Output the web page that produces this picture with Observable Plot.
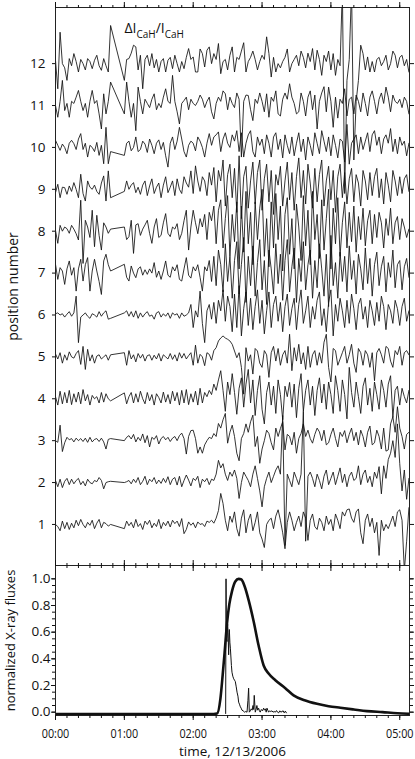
<!DOCTYPE html>
<html><head><meta charset="utf-8">
<script src="https://cdn.jsdelivr.net/npm/d3@7"></script>
<script src="https://cdn.jsdelivr.net/npm/@observablehq/plot@0.6"></script>
<style>
body{margin:0;background:#fff;}
#wrap{position:relative;width:415px;height:759px;overflow:hidden;font-family:"Open Sans",sans-serif;}
#wrap svg{position:absolute;left:0;}
</style></head><body><div id="wrap"></div>
<script>
// ---- sampling grid (minutes after 00:00 UT, 2-minute cadence) ----
const sampleStep = 2;
const sampleTimes = d3.range(155).map(i => i * sampleStep);

// ---- ΔI/I deviations of each position, in hundredths of a position unit ----
const s1 = [0,-5,-15,8,-10,5,-12,3,-8,10, -3,12,0,-8,5,-2,10,-10,3,12, -8,5,2,-4,0, null,null,null,null,null,
-10,8,-3,5,-8,12,-5,2,-12,8, 0,10,-8,3,-5,12,-10,5,-3,8, -6,10,2,8,-5,14,-22,-12,6,-2, 4,-8,6,0,2,-5,8,5,10,3,
15,33,74,50,10,-15,20,5,30,-10, -28,15,35,-20,10,25,-15,5,30,-20, -35,-55,0,10,15,-10,20,35,10,-20,
-58,5,30,10,-15,5,20,-5,30,15, -38,10,25,-5,-12,15,5,-15,20,0, 12,-15,25,10,-10,30,20,35,37,15,
5,30,37,-20,-46,10,25,-5,15,-20, 5,-74,10,-15,0,-10,5,20,-5,30, 35,10,-110,-40,40];
const s2 = [5,-10,8,-12,3,10,-5,8,-3,5, 10,-5,3,-8,8,0,-3,5,2,12, 5,-15,0,2,3, null,null,null,null,null,
0,2,5,-3,8,0,12,-5,3,15, -5,8,2,12,-3,6,-2,10,0,14, -5,8,12,-6,15,-10,5,18,6,-8, 10,5,15,-12,8,2,10,-5,8,5,
20,53,35,45,20,5,25,15,30,10, -38,0,25,15,5,-10,20,40,10,-20, -58,-10,10,25,0,15,30,40,20,160,
-150,20,5,-10,25,10,-5,20,170,-140, 15,25,10,-10,20,5,-15,15,30,-5, 10,25,-5,15,35,0,20,-10,15,25,
5,10,40,-5,20,30,0,15,-10,25, 10,38,-27,40,10,55,70,100,60,140, 45,-20,30,-40,10];
const s3 = [0,-4,37,-26,-5,8,2,5,-3,6, 0,5,-2,6,-4,8,-3,3,5,-2, 6,-3,-20,3,5, null,null,null,null,null,
0,8,12,4,15,-3,8,0,16,-5, 12,-15,8,3,12,-8,5,10,2,8, -2,6,10,0,12,18,5,-32,10,24, 25,5,-30,-15,-30,-10,0,8,5,17,
10,41,30,50,65,-6,20,37,10,-30, -48,5,17,40,20,45,61,-14,10,-54, -20,0,25,17,-5,-22,30,10,29,45,
-22,15,10,-10,20,-30,5,17,40,10, 25,5,-6,15,30,21,0,25,-10,-5, 15,30,5,-15,20,10,24,-5,15,30,
0,20,-10,25,10,-15,20,35,-10,-5, 25,10,-20,30,-25,-22,40,57,20,81, 30,10,-20,15,20];
const s4 = [5,-15,18,-12,15,-10,20,-14,12,-8, 16,-12,22,-5,10,-15,8,0,5,-10, 15,-8,12,0,-5, null,null,null,null,null,
14,-12,5,15,-10,12,-8,18,0,-12, 15,-5,10,-15,12,3,-10,16,-8,10, -12,18,-5,15,-15,20,-10,22,-14,12, -8,18,-15,25,-10,15,5,20,10,35,
20,45,67,20,-30,40,10,60,15,-37, 25,50,-20,35,70,-10,45,-40,20,55, -25,-60,15,40,-15,30,-35,45,10,-50,
30,5,39,-20,35,-45,25,60,-30,20, 45,-15,30,-40,20,50,-10,35,-25,40, 10,-35,55,20,-30,45,10,-48,75,15,
-20,40,5,-35,30,50,-15,25,-30,40, 10,-25,45,20,-20,35,55,-44,20,30, -15,25,5,-10,20];
const s5 = [7,-5,10,-15,5,-8,12,0,-3,8, 15,-18,25,-30,18,-10,5,-15,2,5, -5,0,5,-8,5, null,null,null,null,null,
10,-20,15,-5,5,-12,8,-3,6,-10, 3,5,-8,4,-5,8,-10,5,0,-5, 8,-6,5,-10,10,-3,8,-5,3,10, -20,28,-15,6,0,-21,10,6,-8,15,
22,38,45,50,45,42,38,30,14,-2, 10,-25,-89,22,-10,5,-41,20,14,-15, -25,15,5,-49,10,25,-10,20,-20,5,
15,-15,54,-33,22,-10,30,-17,10,-30, 25,-25,5,15,-20,10,-15,35,54,-25, -60,20,15,-20,-5,10,25,-15,5,30,
-15,-37,20,10,-20,15,5,-25,10,-57, 10,20,5,-15,25,20,-10,-25,15,5, 25,-20,10,15,5];
const s6 = [3,5,0,3,-5,2,8,-3,5,45, -66,-5,0,5,-3,-8,3,0,-5,8, -3,5,10,-10,-8, null,null,null,null,null,
5,10,-3,8,-5,10,-8,5,-5,3, 8,-3,0,-10,5,8,-5,3,-3,5, -8,5,0,3,-8,5,-3,0,5,25, -30,10,-5,57,-20,-66,10,25,-10,30,
-20,35,10,60,-15,45,20,-40,50,-30, 70,-50,15,55,-25,40,-35,20,60,-20, 35,-45,10,55,-30,25,45,-15,30,-40,
20,50,-25,15,40,-35,25,60,-20,10, 45,-30,20,-10,35,55,-25,15,-40,30, 60,-50,25,-15,40,10,-30,35,-20,50,
15,-35,25,40,-10,20,-30,35,10,-25, 30,-15,45,20,-35,25,10,-20,35,15, -25,20,40,-15,10];
const s7 = [21,-15,13,5,-27,10,29,-5,13,-43, 10,33,-19,20,37,-43,5,33,5,-20, -51,29,45,20,5, null,null,null,null,null,
21,-10,-19,17,0,-11,10,15,-5,8, -3,10,0,25,-10,5,-15,5,29,-5, -10,15,5,20,-15,-19,10,37,-5,-12, 15,5,20,-10,-43,15,5,30,-20,40,
-30,55,20,-45,70,-20,40,-60,30,75, -50,20,85,-70,40,-30,65,-55,25,80, -40,30,-75,55,10,-50,70,-25,45,-65,
30,80,-45,15,60,-70,35,-20,75,-40, 20,55,-60,30,-35,70,10,-55,45,-80, 90,-30,25,-60,50,-20,40,-45,65,-15,
30,-50,45,10,-40,60,-25,35,-55,20, 50,-30,15,40,-45,25,-10,55,-35,20, 30,-40,15,35,-10];
const s8 = [2,-29,14,0,10,6,-5,14,5,-6, -21,74,-77,26,10,-15,50,-37,38,-10, -45,20,10,-5,5, null,null,null,null,null,
10,-20,-13,26,-53,15,18,-10,5,15, 26,-5,-29,10,30,-15,-10,20,42,-5, -13,10,5,18,-20,-5,25,50,-45,10, 50,20,-6,30,10,40,-20,45,25,60,
-30,50,75,-40,30,85,-60,40,-25,70, -90,60,-50,95,-30,45,-80,70,-20,55, 100,-60,30,-85,70,-40,90,-20,60,-95,
40,80,-55,30,-90,65,10,-70,85,-35, 50,-80,95,-20,40,-65,75,-45,30,100, -90,55,-30,80,-60,20,70,-40,45,-25,
60,-50,35,-20,55,-35,25,50,-30,40, -15,45,20,-40,30,-10,55,-30,20,35, -20,30,10,-15,5];
const s9 = [-8,12,-20,5,4,-12,8,-5,16,0, -20,36,-10,-28,20,5,0,10,-5,-12, 15,32,-28,44,-20, null,null,null,null,null,
-5,20,0,10,16,-8,5,-12,10,20, -15,8,25,-10,5,15,-20,10,30,-8, 5,20,-15,25,0,-10,30,15,5,44, -10,56,20,-5,30,20,-15,40,10,52,
-30,45,20,70,-40,35,60,-20,50,-55, 80,-70,30,55,-45,20,65,-35,40,70, -50,25,60,-30,45,-60,35,10,55,-40,
20,65,-25,40,-50,30,75,-20,45,-35, 60,15,-45,50,-30,35,70,-40,20,55, -25,45,-55,30,60,-20,40,-35,25,50,
-30,35,15,-40,45,20,-25,40,-15,30, 50,-20,25,-35,40,10,-30,45,20,-15, 30,-10,25,35,-5];
const s10 = [17,5,-7,8,0,-15,10,17,9,-5, 20,33,-5,10,-23,5,0,-10,12,-19, 5,-39,48,-39,-10, null,null,null,null,null,
-19,10,15,-8,0,25,-10,-5,15,8, -12,20,5,-15,10,18,-5,12,-20,-47, 10,25,-5,15,48,20,-10,-23,5,15, 10,-8,25,15,0,-23,10,33,5,25,
30,37,-10,20,35,10,0,30,15,40, -10,35,-23,10,30,40,-10,-23,25,5, 20,-15,30,10,-23,25,35,-5,20,-25,
30,5,-15,25,-20,10,35,-10,20,-30, 25,5,-20,35,10,-15,40,15,-10,25, -20,30,5,-25,20,15,-35,55,-40,10,
20,30,-15,25,-5,15,35,-10,30,40, 5,25,-15,20,30,10,45,-10,20,-15, 25,5,15,-20,10];
const s11 = [0,-28,10,60,-12,5,-28,10,5,20, 36,10,-12,5,-28,10,36,5,12,-20, -56,28,-20,10,56, null,null,null,null,null,
-20,56,10,-28,5,-60,44,10,-20,15, 5,-5,15,28,-10,5,-5,20,40,10, 5,72,10,-15,-44,5,12,20,-10,15, 5,0,10,25,15,-5,10,20,-15,-32,
5,20,10,35,28,-10,20,5,-5,30, 15,-123,10,25,24,-10,-36,15,5,30, 10,-15,28,-28,20,10,35,-20,-25,15,
30,15,52,20,5,-20,-15,30,10,-25, 20,35,-10,25,-56,10,30,45,-15,44, 10,-52,20,-30,15,5,40,-25,15,20,
-20,25,10,-15,30,5,-25,20,35,10, -20,15,30,5,44,20,-15,25,10,5, 15,-5,20,10,-20];
const s12 = [8,-60,75,0,-10,-40,12,-5,24,5, -20,10,0,-15,12,5,-12,8,20,-5, -16,12,-5,-20,91, null,null,null,null,null,
-40,10,12,25,44,40,-15,20,-60,10, 20,-5,24,-10,10,-20,5,12,-20,8, 15,-12,20,0,-20,5,-12,15,36,10, 16,-20,-20,35,24,-8,32,40,0,24,
10,48,-24,5,10,-15,20,40,-20,15, 10,30,50,-20,5,15,30,10,-15,5, 20,10,64,24,-32,15,-20,0,-10,5,
15,35,-20,0,10,20,-5,30,15,-10, 25,5,36,-15,32,10,-28,20,5,30, -15,24,-28,10,-5,180,-310,-40,10,180,
-230,-90,-40,44,24,-15,16,-20,5,-20, 10,15,-5,5,20,-15,0,30,20,-10, 15,20,-5,10,-20];
const seriesValues = [s1, s2, s3, s4, s5, s6, s7, s8, s9, s10, s11, s12];
const positions = [1,2,3,4,5,6,7,8,9,10,11,12];

// ---- normalized X-ray fluxes ----
const softT = [0,60,120,135,140.8,143.7,145.7,147.4,149.5,151.5, 153.9,156.7,159.6,162.0,164.8,168.3,172.7,177.0,181.4,185.7,
191.6,200.3,207.5,217,227.9,238,248.2,260,271.4,285, 298,308.5];
const softV = [-0.015,-0.015,-0.015,-0.015,-0.01,0.10,0.28,0.45,0.67,0.81, 0.91,0.98,1.0,0.995,0.944,0.84,0.68,0.50,0.35,0.29,
0.24,0.18,0.126,0.09,0.063,0.045,0.033,0.02,0.008,0.0, -0.008,-0.012];
const hardT = [148.3,148.6,149.0,149.5,150.0,150.4,150.9,151.5,152.0,152.4, 153.3,153.8,154.5,155.3,156.0,156.7,157.5,158.2,159.0,159.6,
160.3,161.1,161.8,162.5,163.5,164.8,165.8,166.9,167.7,168.3, 168.9,169.8,170.6,171.4,172.1,172.7,173.2,174.1,174.8,175.5,
176.2,177.0,177.7,178.4,179.4,180.4,181.4,182.1,182.9,183.6, 184.3,185.0,185.7,186.6,187.6,188.6,189.6,190.6,191.6,192.6,
193.5,194.5,195.5,196.4,197.4,198.4,199.3,200.3,201.2];
const hardV = [-0.01,1.0,0.55,0.53,0.66,0.60,0.43,0.62,0.52,0.48, 0.35,0.30,0.27,0.25,0.24,0.23,0.19,0.15,0.12,0.075,
0.06,0.04,0.03,0.015,0.01,0.0,0.005,0.0,0.088,0.18, 0.0,0.01,0.025,0.015,0.05,0.02,0.126,0.0,0.02,0.05,
0.015,0.03,0.01,0.0,0.02,0.01,0.03,0.015,0.025,0.0, 0.03,0.015,0.0,0.01,0.005,0.01,0.0,0.005,0.0,0.012,
0.0,-0.005,0.01,0.0,0.005,0.01,-0.005,0.008,-0.005];

// ---- axes ----
const majorTimes = [0,60,120,180,240,300];
const minorTimes = d3.range(0, 310, 10);
const fluxMajor = [0,0.2,0.4,0.6,0.8,1.0];
const fluxMinor = d3.range(0, 21).map(i => i * 0.05);
const timeLabel = d => String(d / 60).padStart(2, "0") + ":00";
const annotT = 60.5, annotY = 12.71;

const FONT = "Open Sans";
const INK = "#111";
const xDomain = [0, 308.5];

const rows = [];
seriesValues.forEach((vals, k) => vals.forEach((v, i) => {
  if (v !== null) rows.push({pos: positions[k], t: sampleTimes[i], y: positions[k] + v / 100});
}));
const soft = softT.map((t, i) => ({t, v: softV[i]}));
const hard = hardT.map((t, i) => ({t, v: hardV[i]}));

const noText = () => "";
const common = {stroke: INK, label: null};

const topPlot = Plot.plot({
  width: 415, height: 573,
  marginTop: 7, marginBottom: 8, marginLeft: 55, marginRight: 6,
  style: {background: "transparent", fontFamily: FONT, fontSize: "13.5px", color: INK},
  x: {domain: xDomain},
  y: {domain: [0.02, 13.34]},
  marks: [
    Plot.line(rows, {x: "t", y: "y", z: "pos", stroke: INK, strokeWidth: 0.85, clip: true}),
    Plot.frame({stroke: "#222"}),
    Plot.axisX(minorTimes, {...common, anchor: "top", tickSize: 3, tickFormat: noText}),
    Plot.axisX(majorTimes, {...common, anchor: "top", tickSize: 6, tickFormat: noText}),
    Plot.axisX(minorTimes, {...common, anchor: "bottom", tickSize: 3, tickFormat: noText}),
    Plot.axisX(majorTimes, {...common, anchor: "bottom", tickSize: 6, tickFormat: noText}),
    Plot.axisY(positions, {...common, anchor: "left", tickSize: 3, tickPadding: 7, fontSize: 13.5}),
    Plot.axisY(positions, {...common, anchor: "right", tickSize: 4, tickFormat: noText}),
    Plot.text(["position number"], {frameAnchor: "left", dx: -42, rotate: -90, textAnchor: "middle", lineAnchor: "middle", fontSize: 14, fill: INK})
  ]
});
topPlot.style.top = "0px";

// annotation with subscripts
{
  const sx = topPlot.scale("x"), sy = topPlot.scale("y");
  const t = d3.select(topPlot).append("text")
    .attr("x", sx.apply(annotT)).attr("y", sy.apply(annotY))
    .attr("text-anchor", "start")
    .attr("font-family", FONT).attr("font-size", 14).attr("fill", INK);
  t.append("tspan").text("ΔI");
  t.append("tspan").attr("font-size", 10).attr("dy", 5).text("CaH");
  t.append("tspan").attr("dy", -5).text("/I");
  t.append("tspan").attr("font-size", 10).attr("dy", 5).text("CaH");
}

const bottomPlot = Plot.plot({
  width: 415, height: 202,
  marginTop: 8, marginBottom: 44, marginLeft: 55, marginRight: 6,
  style: {background: "transparent", fontFamily: FONT, fontSize: "13.5px", color: INK},
  x: {domain: xDomain},
  y: {domain: [-0.025, 1.1]},
  marks: [
    Plot.line(soft, {x: "t", y: "v", stroke: INK, strokeWidth: 2.6, curve: "monotone-x", clip: true}),
    Plot.line(hard, {x: "t", y: "v", stroke: INK, strokeWidth: 1, clip: true}),
    Plot.frame({stroke: "#222"}),
    Plot.axisX(minorTimes, {...common, anchor: "top", tickSize: 3, tickFormat: noText}),
    Plot.axisX(majorTimes, {...common, anchor: "top", tickSize: 6, tickFormat: noText}),
    Plot.axisX(minorTimes, {...common, anchor: "bottom", tickSize: 3, tickFormat: noText}),
    Plot.axisX(majorTimes, {...common, anchor: "bottom", tickSize: 5, tickPadding: 8, tickFormat: timeLabel, fontSize: 13.5}),
    Plot.axisY(fluxMinor, {...common, anchor: "left", tickSize: 3, tickFormat: noText}),
    Plot.axisY(fluxMajor, {...common, anchor: "left", tickSize: 4, tickPadding: 1, tickFormat: d3.format(".1f"), fontSize: 13.5}),
    Plot.axisY(fluxMinor, {...common, anchor: "right", tickSize: 3, tickFormat: noText}),
    Plot.axisY(fluxMajor, {...common, anchor: "right", tickSize: 4, tickFormat: noText}),
    Plot.text(["normalized X-ray fluxes"], {frameAnchor: "left", dx: -45, rotate: -90, textAnchor: "middle", lineAnchor: "middle", fontSize: 13, fill: INK}),
    Plot.text(["time, 12/13/2006"], {frameAnchor: "bottom", dy: 36, textAnchor: "middle", lineAnchor: "middle", fontSize: 13.5, fill: INK})
  ]
});
bottomPlot.style.top = "557px";

// condense the hh:mm tick labels horizontally (narrow face of the original)
d3.select(bottomPlot).selectAll('g[aria-label="x-axis tick label"] text')
  .filter(function() { return this.textContent.length > 0; })
  .each(function() {
    const el = this;
    let tr = el.getAttribute("transform");
    if (!tr) {
      const x = +el.getAttribute("x") || 0, y = +el.getAttribute("y") || 0;
      el.setAttribute("x", 0); el.setAttribute("y", 0);
      tr = `translate(${x},${y})`;
    }
    el.setAttribute("transform", tr + " scale(0.8,1)");
  });

const wrap = document.getElementById("wrap");
wrap.appendChild(topPlot);
wrap.appendChild(bottomPlot);
</script></body></html>
